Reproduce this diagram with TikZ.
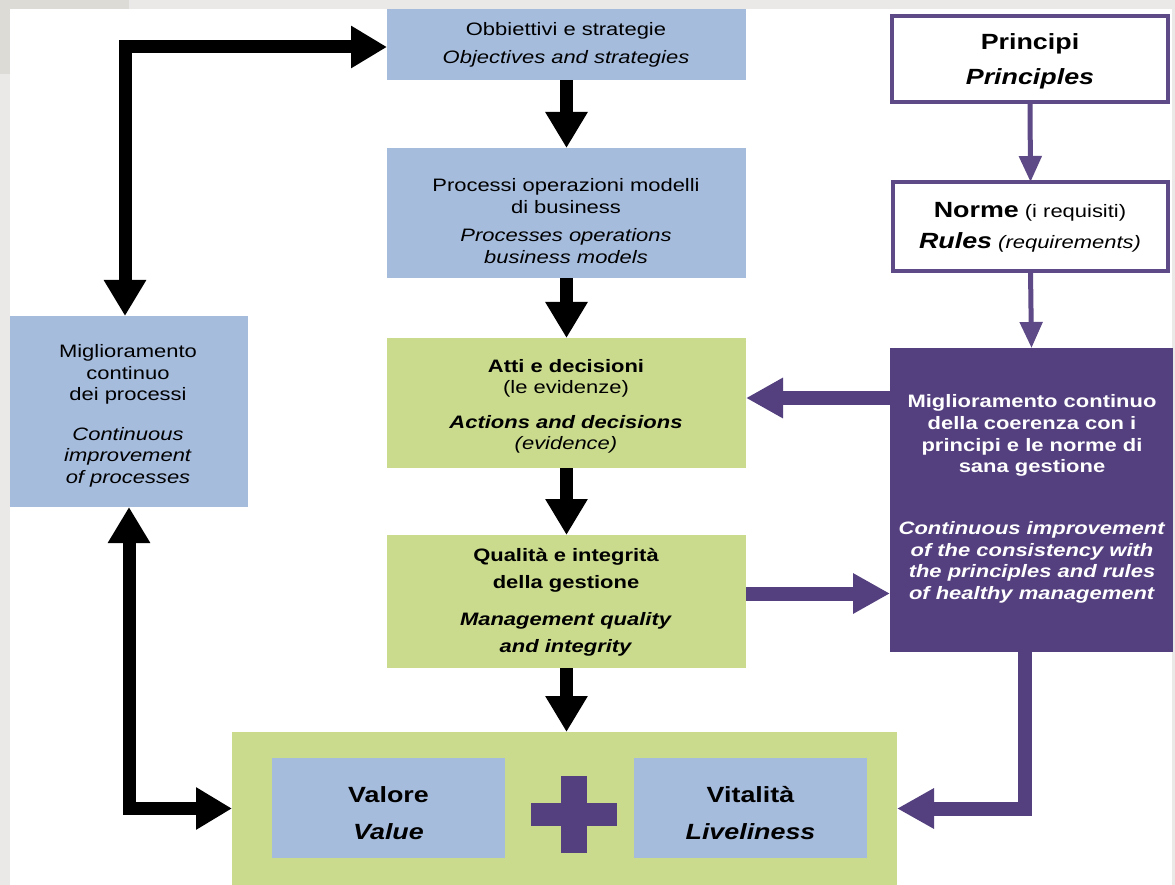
\documentclass[tikz,border=0pt]{standalone}
\usepackage{fontspec}
\setmainfont{Liberation Sans}[FakeStretch=1.22]
\usetikzlibrary{arrows.meta}
\definecolor{bluebox}{HTML}{A6BCDD}
\definecolor{greenbox}{HTML}{CADB8E}
\definecolor{purp}{HTML}{54407E}
\definecolor{purpline}{HTML}{5E4A86}
\definecolor{bgA}{HTML}{EAE9E7}
\definecolor{bgB}{HTML}{DCDBD6}
\tikzset{
  bx/.style={inner sep=0pt, outer sep=0pt},
  bluebx/.style={bx, fill=bluebox},
  greenbx/.style={bx, fill=greenbox},
  purpbx/.style={bx, fill=purp},
  whitebx/.style={bx, fill=white, draw=purpline, line width=4pt},
  txt/.style={align=center, inner sep=0pt, font=\fontsize{18}{21.5}\selectfont},
  blk/.style={draw=black, line width=13pt, -{Triangle[length=36pt,width=40pt]}},
  blkboth/.style={draw=black, line width=13pt, {Triangle[length=36pt,width=40pt]}-{Triangle[length=36pt,width=40pt]}},
  pthick/.style={draw=purp, line width=14pt, -{Triangle[length=37pt,width=38pt]}},
  pthin/.style={draw=purpline, line width=5pt, -{Triangle[length=26pt,width=22pt]}}
}
\begin{document}
\begin{tikzpicture}[x=1pt,y=-1pt]
\useasboundingbox (0,0) rectangle (1175,885);
% background frame
\fill[bgA] (0,0) rectangle (1175,885);
\fill[bgB] (0,0) rectangle (129,9);
\fill[bgB] (0,0) rectangle (10,74);
\fill[white] (10,9) rectangle (1172,885);

% boxes
\node[bluebx, minimum width=359, minimum height=71] (obj) at (566.5,44.5) {};
\node[bluebx, minimum width=359, minimum height=130] (proc) at (566.5,213) {};
\node[greenbx, minimum width=359, minimum height=130] (atti) at (566.5,403) {};
\node[greenbx, minimum width=359, minimum height=133] (qual) at (566.5,601.5) {};
\node[bluebx, minimum width=238, minimum height=191] (left) at (129,411.5) {};
\node[greenbx, minimum width=665, minimum height=153] (bottom) at (564.5,808.5) {};
\node[bluebx, minimum width=233, minimum height=100] (valore) at (388.5,808) {};
\node[bluebx, minimum width=233, minimum height=100] (vita) at (750.5,808) {};
\node[whitebx, minimum width=276, minimum height=86] (princ) at (1030,59) {};
\node[whitebx, minimum width=275, minimum height=89] (norme) at (1030.5,226.5) {};
\node[purpbx, minimum width=283, minimum height=304] (pbox) at (1031.5,500) {};

% plus sign
\fill[purp] (531,803) rectangle (617,826);
\fill[purp] (561,776) rectangle (587,853);

% texts
\node[txt, font=\fontsize{18}{28}\selectfont] (objT) at (566,45) {Obbiettivi e strategie\\\textit{Objectives and strategies}};
\node[txt] (procT) at (566,221) {Processi operazioni modelli\\di business\\[7pt]\textit{Processes operations}\\\textit{business models}};
\node[txt] (attiT) at (566,406.5) {\textbf{Atti e decisioni}\\(le evidenze)\\[13pt]\textbf{\textit{Actions and decisions}}\\\textit{(evidence)}};
\node[txt, font=\fontsize{18}{27}\selectfont\bfseries] (qualT) at (566,602.5) {Qualità e integrità\\della gestione\\[10pt]\textit{Management quality}\\\textit{and integrity}};
\node[txt] (leftT) at (128,416) {Miglioramento\\continuo\\dei processi\\[18pt]\textit{Continuous}\\\textit{improvement}\\\textit{of processes}};
\node[txt, text=white, font=\fontsize{18}{21.7}\selectfont\bfseries] (pboxT) at (1032,499) {Miglioramento continuo\\della coerenza con i\\principi e le norme di\\sana gestione\\[40pt]\textit{Continuous improvement}\\\textit{of the consistency with}\\\textit{the principles and rules}\\\textit{of healthy management}};
\node[txt, font=\fontsize{22}{35}\selectfont\bfseries] (princT) at (1030,61) {Principi\\\textit{Principles}};
\node[txt, font=\fontsize{18}{31}\selectfont] (normeT) at (1030,227.5) {{\fontsize{22}{31}\selectfont\bfseries Norme} (i requisiti)\\\textit{{\fontsize{22}{31}\selectfont\bfseries Rules} (requirements)}};
\node[txt, font=\fontsize{22}{37}\selectfont\bfseries] (valT) at (388.5,813) {Valore\\\textit{Value}};
\node[txt, font=\fontsize{22}{37}\selectfont\bfseries] (vitT) at (750.5,813) {Vitalità\\\textit{Liveliness}};

% black connectors
\draw[blk] (obj.south) -- (proc.north);
\draw[blk] (proc.south) -- (atti.north);
\draw[blk] (atti.south) -- (qual.north);
\draw[blk] (qual.south) -- (qual.south |- bottom.north);
\coordinate (objL) at ([yshift=-2.5pt]obj.west);
\coordinate (leftTop) at ([xshift=-4pt]left.north);
\draw[blkboth] (objL) -| (leftTop);
\draw[blkboth] (left.south) |- (bottom.west);

% purple connectors
\draw[pthin] (princ.south) -- (norme.north);
\draw[pthin] (norme.south) -- (pbox.north);
\coordinate (attiR) at ([yshift=5pt]atti.east);
\coordinate (qualR) at ([yshift=8pt]qual.east);
\coordinate (pboxB) at ([xshift=-7pt]pbox.south);
\draw[pthick] (attiR -| pbox.west) -- (attiR);
\draw[pthick] (qualR) -- (qualR -| pbox.west);
\draw[pthick] (pboxB) |- (bottom.east);
\end{tikzpicture}
\end{document}
